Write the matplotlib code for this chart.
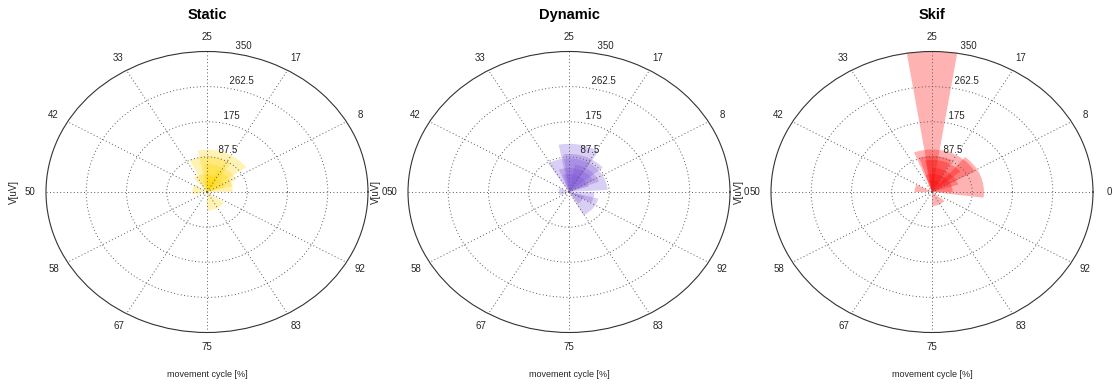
import numpy as np
import matplotlib
matplotlib.use("Agg")
import matplotlib.pyplot as plt

plt.rcParams['font.family'] = ['Liberation Sans', 'DejaVu Sans']

# Activation bursts: onset / offset in % of the movement cycle, amplitude in uV
static_onset = [10, 15, 7, 4, 0, 75, 40, 17, 5, 12]
static_offset = [28, 32, 26, 19, 8, 90, 53, 36, 25, 30]
static_amp = [105, 88, 70, 58, 56, 46, 32, 45, 40, 30]

dynamic_onset = [16, 1, 6, 8, 83, 92, 42, 11, 5, 85]
dynamic_offset = [28, 34, 22, 31, 96, 100, 56, 27, 30, 95]
dynamic_amp = [120, 84, 70, 60, 66, 55, 22, 95, 45, 35]

skif_onset = [22.5, 8, -2, 11, 42, 75, 5, 17, 0, 15]
skif_offset = [27.5, 31, 14, 28, 50, 89, 25, 30, 30, 28]
skif_amp = [350, 106, 113, 80, 38, 35, 60, 90, 45, 30]

titles = ["Static", "Dynamic", "Skif"]
colors = ["#FFD700", "#764BD6", "#FF0000"]
alphas = [0.30, 0.27, 0.30]

cycle_labels = ["0", "8", "17", "25", "33", "42", "50", "58", "67", "75", "83", "92"]
radial_ticks = [87.5, 175, 262.5, 350]
r_max = 350

series = [
    (static_onset, static_offset, static_amp),
    (dynamic_onset, dynamic_offset, dynamic_amp),
    (skif_onset, skif_offset, skif_amp),
]

fig = plt.figure(figsize=(11.17, 3.87), dpi=100)
W, H = 1117, 387
centers = [207, 569, 932]
rx, ry = 161, 140.5
cy = 192

for i, (onset, offset, amp) in enumerate(series):
    cx = centers[i]
    left = (cx - rx) / W
    bottom = (H - (cy + ry)) / H
    ax = fig.add_axes([left, bottom, 2 * rx / W, 2 * ry / H], projection='polar')
    ax.set_aspect('auto')
    ax.set_ylim(0, r_max)

    theta0 = np.deg2rad(np.array(onset) * 3.6)
    width = np.deg2rad((np.array(offset) - np.array(onset)) * 3.6)
    ax.bar(theta0, amp, width=width, bottom=0.0, align='edge',
           color=colors[i], alpha=alphas[i], edgecolor='none', linewidth=0)

    angles = np.arange(0, 360, 30)
    ax.set_thetagrids(angles, labels=[''] * len(angles))
    ax.set_rgrids(radial_ticks[:-1], labels=[''] * 3)
    ax.grid(True, linestyle=(0, (1, 2.5)), color='0.35', linewidth=0.7)
    ax.spines['polar'].set_color('0.2')
    ax.spines['polar'].set_linewidth(0.8)
    ax.tick_params(length=0)

    for ang, lab in zip(angles, cycle_labels):
        ax.text(np.deg2rad(ang), 1.1 * r_max, lab, ha='center', va='center',
                fontsize=7, color='0.15', clip_on=False)

    rinc = radial_ticks[0]
    for rv in radial_ticks:
        ax.text(np.deg2rad(82), rv + rinc / 20, '  ' + f"{rv:g}", ha='left',
                va='bottom', fontsize=7, color='0.15', clip_on=False)

    ax.text(0.5, 1.13, titles[i], transform=ax.transAxes, ha='center',
            va='center', fontsize=10.5, fontweight='bold')
    ax.text(-0.10, 0.5, 'V[uV]', transform=ax.transAxes, rotation=90,
            ha='center', va='center', fontsize=7, color='0.15')
    ax.text(0.5, -0.151, 'movement cycle [%]', transform=ax.transAxes,
            ha='center', va='center', fontsize=6.5, color='0.15')

fig.savefig("out.png", dpi=100)
